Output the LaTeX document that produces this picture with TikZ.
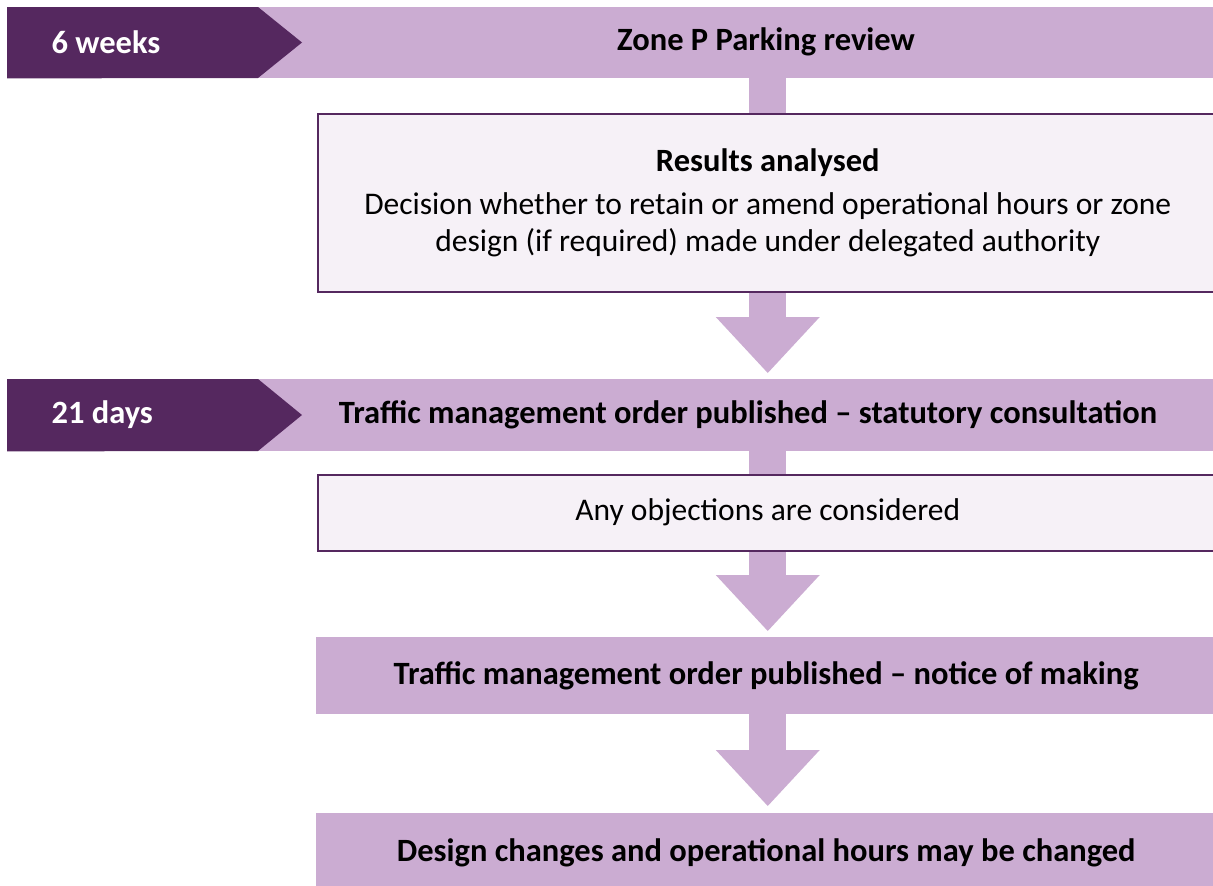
\documentclass[tikz,border=0pt]{standalone}
\usepackage{fontspec}
\setmainfont{Carlito}
\usetikzlibrary{positioning,arrows.meta,calc,backgrounds}

\definecolor{plum}{HTML}{55285F}
\definecolor{lilac}{HTML}{CBACD2}
\definecolor{mist}{HTML}{F6F1F7}

\tikzset{
  band/.style={fill=lilac, minimum width=1206pt, minimum height=71pt, inner sep=0pt, anchor=north west},
  tagtext/.style={text=white, anchor=west, font=\fontsize{32.5}{36}\selectfont\bfseries},
  headtext/.style={font=\fontsize{32.5}{36}\selectfont\bfseries},
  notebox/.style={draw=plum, line width=2.5pt, fill=mist, minimum width=900pt, inner sep=0pt, anchor=north west, align=center, font=\fontsize{31.5}{37}\selectfont},
  stepbox/.style={fill=lilac, minimum width=900pt, inner sep=0pt, anchor=north west, font=\fontsize{32.5}{36}\selectfont\bfseries},
  stem/.style={lilac, line width=37pt},
  flow/.style={lilac, line width=37pt, -{Triangle[width=104pt,length=56pt,line width=0pt]}},
}

\begin{document}
\begin{tikzpicture}[x=1pt, y=1pt]
\useasboundingbox (0,0) rectangle (1213,-886);

% first band
\node[band] (rev) at (7,-7) {};
\fill[plum] (rev.north west) -- ++(251,0) -- ++(44,-35.5) -- ++(-44,-35.5) -- (rev.south west) -- cycle;
\node[tagtext] (w6) at (48,-42) {6 weeks};
\node[headtext] (revtext) at (766,-42) {Zone P Parking review};

\node[notebox, minimum height=178pt] (res) at (316.5,-112.5) {{\fontsize{32.5}{36}\selectfont\bfseries Results analysed}\\[6pt]
  Decision whether to retain or amend operational hours or zone\\
  design (if required) made under delegated authority};

% second band
\node[band, minimum height=72pt] (tmo) at (7,-379) {};
\fill[plum] (tmo.north west) -- ++(251,0) -- ++(44,-36) -- ++(-44,-36) -- (tmo.south west) -- cycle;
\node[tagtext] (d21) at (48,-415) {21 days};
\node[headtext] (tmotext) at (748,-415) {Traffic management order published -- statutory consultation};

\node[notebox, minimum height=76pt] (obj) at (316.5,-473.5) {Any objections are considered};

\node[stepbox, minimum height=77pt] (notice) at (316,-637) {Traffic management order published -- notice of making};
\node[stepbox, minimum height=80pt] (design) at (316,-813) {Design changes and operational hours may be changed};

% connectors
\begin{scope}[on background layer]
\draw[stem] (res.north) -- (res.north |- rev.south);
\draw[stem] (obj.north) -- (obj.north |- tmo.south);
\end{scope}
\draw[flow] (res.south) -- ($(res.south |- tmo.north)+(0,6)$);
\draw[flow] (obj.south) -- ($(obj.south |- notice.north)+(0,6)$);
\draw[flow] (notice.south -| obj.south) -- ($(obj.south |- design.north)+(0,7)$);

\end{tikzpicture}
\end{document}
